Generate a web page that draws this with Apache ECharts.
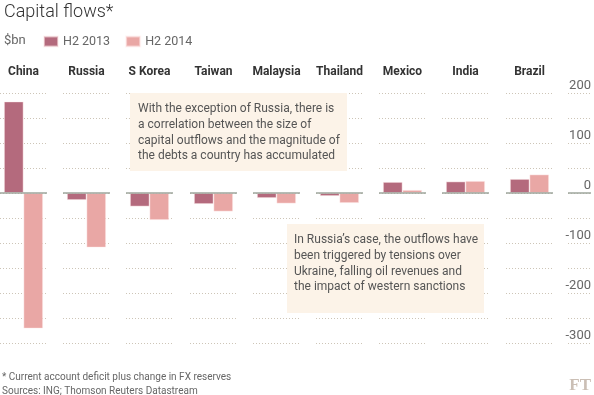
<!DOCTYPE html>
<html><head><meta charset="utf-8">
<script src="https://cdn.jsdelivr.net/npm/echarts@6/dist/echarts.min.js"></script>
<style>html,body{margin:0;padding:0;background:#fff}#c{width:594px;height:395px}</style>
</head><body><div id="c"></div>
<script>
var categories = ['China','Russia','S Korea','Taiwan','Malaysia','Thailand','Mexico','India','Brazil'];
var h2013 = [183, -14, -27, -22, -10, -6, 22, 23, 28];
var h2014 = [-271, -109, -54, -37, -21, -20, 6, 24, 37];
var yTicks = [200, 100, 0, -100, -200, -300];
var seriesNames = ['H2 2013', 'H2 2014'];

var FONT = 'Roboto, "Open Sans", sans-serif';
var C1 = '#b46a7d', C2 = '#e9a7a5';
var GRIDC = '#cdc5b7', ZEROC = '#9ea69c';
var chart = echarts.init(document.getElementById('c'), null, {renderer:'canvas'});

var zeroLine = {silent:true, symbol:'none', label:{show:false},
  lineStyle:{color:ZEROC, type:'solid', width:1.5}, data:[{yAxis:0}]};

var grids = [], xAxes = [], yAxes = [], series = [];
var TOP = 93, H = 250;
for (var i = 0; i < categories.length; i++) {
  grids.push({left: Math.round(i*63.2), top: TOP, width: 47, height: H});
  xAxes.push({type:'category', gridIndex:i, data:[categories[i]], position:'top',
    axisLine:{show:false}, axisTick:{show:false},
    axisLabel:{margin:15, color:'#333', fontWeight:'bold', fontSize:12, fontFamily:FONT}});
  yAxes.push({type:'value', gridIndex:i, min:-300, max:200, interval:50,
    axisLine:{show:false}, axisTick:{show:false}, axisLabel:{show:false},
    splitLine:{show:true, lineStyle:{color:GRIDC, type:[1,2], width:1}}});
  series.push({type:'bar', name:seriesNames[0], xAxisIndex:i, yAxisIndex:i, data:[h2013[i]],
    barWidth:19.5, barGap:'0%', itemStyle:{color:C1, borderColor:'rgba(255,235,235,0.55)', borderWidth:0.8}, z:3,
    markLine:zeroLine});
  series.push({type:'bar', name:seriesNames[1], xAxisIndex:i, yAxisIndex:i, data:[h2014[i]],
    barWidth:19.5, barGap:'0%', itemStyle:{color:C2, borderColor:'rgba(255,235,235,0.55)', borderWidth:0.8}, z:3});
}
// right-hand value axis
var gi = categories.length;
grids.push({left:568, top:TOP, width:25, height:H});
xAxes.push({type:'category', gridIndex:gi, data:[''], position:'bottom',
  axisLine:{show:false}, axisTick:{show:false}, axisLabel:{show:false}});
yAxes.push({type:'value', gridIndex:gi, min:-300, max:200, interval:50, position:'right',
  axisLine:{show:false}, axisTick:{show:false},
  axisLabel:{inside:true, margin:0, color:'#666', fontSize:13, fontFamily:FONT,
    verticalAlign:'bottom', padding:[0,0,1,0],
    formatter:function(v){ return yTicks.indexOf(v) >= 0 ? String(v) : ''; }},
  splitLine:{show:true, lineStyle:{color:GRIDC, type:[1,2], width:1}}});
series.push({type:'bar', xAxisIndex:gi, yAxisIndex:gi, data:[null], markLine:zeroLine});

function box(x, y, w, h, lines, tx) {
  return [
    {type:'rect', z:100, shape:{x:x, y:y, width:w, height:h}, style:{fill:'#fcf3e8'}},
    {type:'text', z:101, x:x+tx, y:y+8, style:{text:lines.join('\n'), fill:'#555',
      font:'12px ' + FONT, lineHeight:15.8}}
  ];
}

var graphics = [
  {type:'text', left:4, top:3, style:{text:'Capital flows*', fill:'#333', font:'300 18px ' + FONT}},
  {type:'text', left:4, top:34, style:{text:'$bn', fill:'#666', font:'13px ' + FONT}},
  {type:'text', left:2, top:372, style:{text:'* Current account deficit plus change in FX reserves', fill:'#666', font:'10px ' + FONT}},
  {type:'text', left:2, top:386, style:{text:'Sources: ING; Thomson Reuters Datastream', fill:'#666', font:'10px ' + FONT}},
  {type:'text', right:3, top:377, style:{text:'FT', fill:'#cbbfb5', font:'bold 17px "Liberation Serif", serif'}}
].concat(
  box(130, 93, 217, 78, ['With the exception of Russia, there is','a correlation between the size of','capital outflows and the magnitude of','the debts a country has accumulated'], 8),
  box(287, 224, 197, 89, ['In Russia\u2019s case, the outflows have','been triggered by tensions over','Ukraine, falling oil revenues and','the impact of western sanctions'], 7)
);

chart.setOption({
  backgroundColor:'#fff',
  animation:false,
  grid:grids, xAxis:xAxes, yAxis:yAxes, series:series,
  legend:{data:seriesNames, left:43, top:35, padding:0, itemWidth:14, itemHeight:10, itemGap:15,
    icon:'rect', textStyle:{color:'#666', fontSize:12.5, fontFamily:FONT}},
  graphic:graphics
});
</script></body></html>
